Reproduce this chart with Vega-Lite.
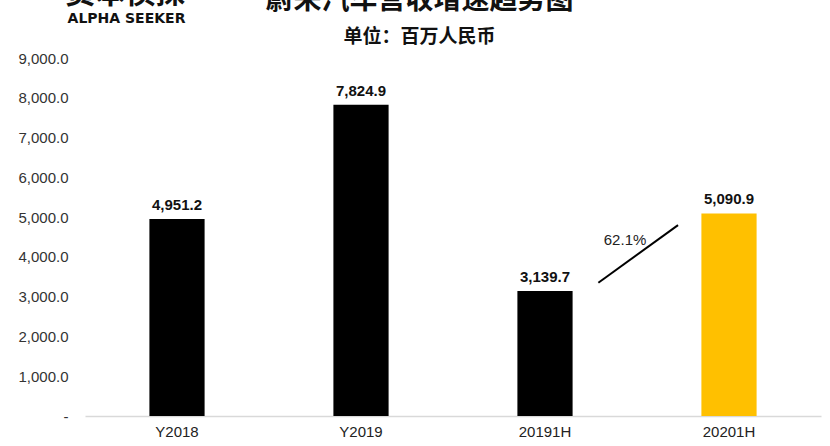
{
  "$schema": "https://vega.github.io/schema/vega-lite/v6.json",
  "width": 736,
  "height": 358,
  "autosize": "none",
  "padding": {"left": 85, "top": 58, "right": 9, "bottom": 30},
  "background": "white",
  "config": {"view": {"stroke": null}, "font": "Liberation Sans",
    "axisY": {"values": [0,1000,2000,3000,4000,5000,6000,7000,8000,9000],
            "labelExpr": "datum.value == 0 ? '-\u00a0\u00a0\u00a0' : format(datum.value, ',.1f')",
            "labelFontSize": 15, "labelColor": "#333333", "labelPadding": 17,
            "labelOverlap": false, "labelBound": false, "labelFlush": false,
            "ticks": false, "domain": false, "grid": false,
            "titleAngle": 0, "titleFontSize": 14, "titleFontWeight": "bold",
            "titleColor": "#111111", "titleX": 41, "titleY": -33, "titleAlign": "center", "titleFont": "DejaVu Sans"}},
  "title": {
    "text": "蔚来汽车营收增速趋势图",
    "subtitle": "单位：百万人民币",
    "anchor": "middle",
    "frame": "bounds",
    "font": "Noto Sans CJK SC",
    "fontSize": 28,
    "fontWeight": "bold",
    "color": "#111111",
    "subtitleFont": "Noto Sans CJK SC",
    "subtitleFontSize": 19,
    "subtitleFontWeight": "bold",
    "subtitleColor": "#111111",
    "subtitlePadding": 13,
    "offset": -69
  },
  "layer": [
    {
      "data": {"values": [
        {"period": "Y2018", "revenue": 4951.2, "highlight": "no"},
        {"period": "Y2019", "revenue": 7824.9, "highlight": "no"},
        {"period": "20191H", "revenue": 3139.7, "highlight": "no"},
        {"period": "20201H", "revenue": 5090.9, "highlight": "yes"}
      ]},
      "encoding": {
        "x": {"field": "period", "type": "nominal", "sort": null,
          "scale": {"paddingInner": 0.7, "paddingOuter": 0.35},
          "axis": {"title": null, "labelAngle": 0, "labelFontSize": 15, "labelColor": "#222222", "labelPadding": 8,
            "ticks": false, "domainColor": "#d9d9d9", "domainWidth": 1.5, "grid": false}},
        "y": {"field": "revenue", "type": "quantitative",
          "scale": {"domain": [0, 9000], "nice": false},
          "axis": {"title": "ALPHA SEEKER"}}
      },
      "layer": [
        {"mark": {"type": "bar"},
          "encoding": {"color": {"field": "highlight", "type": "nominal",
            "scale": {"domain": ["no", "yes"], "range": ["#000000", "#FFC000"]}, "legend": null}}},
        {"mark": {"type": "text", "dy": -14, "fontSize": 15, "fontWeight": "bold", "color": "#111111"},
          "encoding": {"text": {"field": "revenue", "type": "quantitative", "format": ",.1f"}}}
      ]
    },
    {
      "data": {"values": [
        {"x1": 2.79, "x2": 3.223, "y1": 3350, "y2": 4800, "label": "62.1%", "lx": 2.935, "ly": 4430}
      ]},
      "layer": [
        {"mark": {"type": "rule", "strokeWidth": 2, "color": "#000000"},
          "encoding": {
            "x": {"field": "x1", "type": "quantitative", "scale": {"domain": [0, 4], "nice": false, "zero": false},
              "axis": {"orient": "top", "labels": false, "ticks": false, "domain": false, "grid": false,
                "title": "资本侦探", "titleFont": "Noto Sans CJK SC", "titleFontSize": 30, "titleFontWeight": "bold",
                "titleColor": "#111111", "titleX": 40, "titleY": -50, "titleAlign": "center"}},
            "x2": {"field": "x2"},
            "y": {"field": "y1", "type": "quantitative", "axis": {"title": "ALPHA SEEKER"}},
            "y2": {"field": "y2"}
          }},
        {"mark": {"type": "text", "fontSize": 15, "color": "#222222"},
          "encoding": {
            "x": {"field": "lx", "type": "quantitative"},
            "y": {"field": "ly", "type": "quantitative", "axis": {"title": "ALPHA SEEKER"}},
            "text": {"field": "label"}
          }}
      ]
    }
  ],
  "resolve": {"scale": {"x": "independent"}, "axis": {"x": "independent"}}
}
